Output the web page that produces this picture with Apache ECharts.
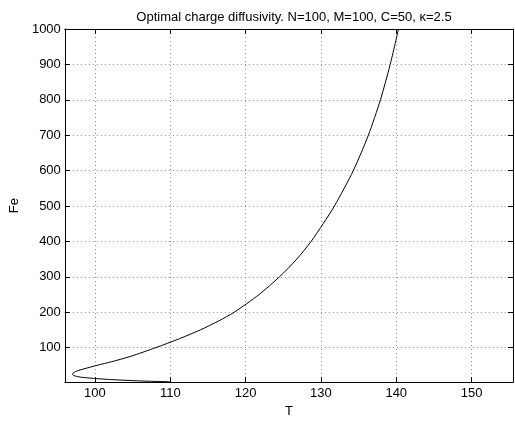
<!DOCTYPE html>
<html>
<head>
<meta charset="utf-8">
<script src="https://cdn.jsdelivr.net/npm/echarts@6/dist/echarts.min.js"></script>
<style>
html, body { margin: 0; padding: 0; background: #fff; }
#main { width: 515px; height: 423px; }
</style>
</head>
<body>
<div id="main"></div>
<script>
// curve, ordered along the path (lower branch -> nose -> up)
var tVals  = [110, 108, 105.8, 103.6, 101.8, 99.8, 98.3, 97.5, 97.1, 97.0, 97.1, 97.4, 97.9, 98.9, 100.3, 102.2, 104.7, 108.1, 111.2, 114.0, 116.4, 118.5, 121.8, 124.5, 126.8, 128.7, 130.3, 131.8, 134.3, 136.3, 137.9, 139.2, 140.3];
var feVals = [3.5, 4.5, 6, 8, 10, 13, 16, 19, 22, 25, 28, 32, 36, 42, 50, 60, 75, 100, 125, 150, 175, 200, 250, 300, 350, 400, 450, 500, 600, 700, 800, 900, 1000];
var xTicks = [100, 110, 120, 130, 140, 150];
var yTicks = [100, 200, 300, 400, 500, 600, 700, 800, 900, 1000];

var chartTitle = 'Optimal charge diffusivity. N=100, M=100, C=50, \u03ba=2.5';

var points = [];
for (var i = 0; i < tVals.length; i++) {
    points.push([tVals[i], feVals[i]]);
}

var font = 'Liberation Sans, Arial, sans-serif';

var gridLine = {
    show: true,
    lineStyle: { color: '#8a8a8a', type: [1, 3], width: 1 }
};

function baseAxis(ticks, extra) {
    var a = {
        type: 'value',
        axisLine: { show: true, onZero: false, lineStyle: { color: '#000', width: 1 } },
        axisTick: { show: true, inside: true, length: 5, customValues: ticks, lineStyle: { color: '#000' } },
        splitLine: { show: false },
        axisLabel: { show: false }
    };
    for (var k in extra) a[k] = extra[k];
    return a;
}

var chart = echarts.init(document.getElementById('main'));
var option = {
    backgroundColor: '#fff',
    animation: false,
    title: {
        text: chartTitle,
        left: 289,
        textAlign: 'center',
        top: 6,
        textStyle: { fontFamily: font, fontSize: 13, fontWeight: 'normal', color: '#000' }
    },
    grid: { left: 61, right: 2, top: 29, bottom: 36.5 },
    xAxis: [
        baseAxis(xTicks, {
            position: 'bottom',
            min: 96, max: 155.5,
            name: 'T', nameLocation: 'middle', nameGap: 20,
            nameTextStyle: { fontFamily: font, fontSize: 13, color: '#000' },
            splitLine: gridLine,
            axisLabel: {
                show: true, margin: 5, fontFamily: font, fontSize: 13, color: '#000',
                customValues: xTicks,
                formatter: function (v) { return String(v); }
            }
        }),
        baseAxis(xTicks, { position: 'top', min: 96, max: 155.5 })
    ],
    yAxis: [
        baseAxis(yTicks, {
            position: 'left',
            min: 2.5, max: 1000,
            name: 'Fe', nameLocation: 'middle', nameGap: 39, nameRotate: 90,
            nameTextStyle: { fontFamily: font, fontSize: 13, color: '#000' },
            splitLine: gridLine,
            axisLabel: {
                show: true, margin: 4, fontFamily: font, fontSize: 13, color: '#000',
                customValues: yTicks,
                formatter: function (v) { return String(v); }
            }
        }),
        baseAxis(yTicks, { position: 'right', min: 2.5, max: 1000 })
    ],
    series: [{
        type: 'line',
        data: points,
        xAxisIndex: 0,
        yAxisIndex: 0,
        showSymbol: false,
        smooth: 0.25,
        clip: true,
        lineStyle: { color: '#000', width: 1 }
    }]
};
chart.setOption(option);
</script>
</body>
</html>
